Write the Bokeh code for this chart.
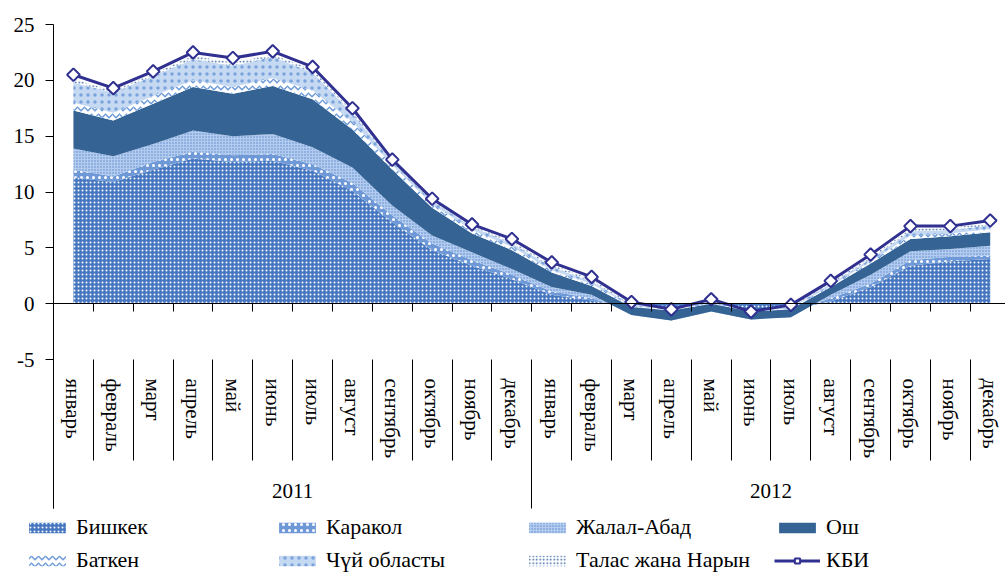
import math
from bokeh.plotting import figure
from bokeh.models import (ColumnDataSource, Range1d, LinearAxis, FixedTicker,
                          Legend, LegendItem)
from bokeh.embed import file_html
from bokeh.resources import INLINE

# ---------------- data ----------------
months = ["январь", "февраль", "март", "апрель", "май", "июнь", "июль",
          "август", "сентябрь", "октябрь", "ноябрь", "декабрь"]
years = ["2011", "2012"]

region_names = ["Бишкек", "Каракол", "Жалал-Абад", "Ош", "Баткен",
                "Чүй областы", "Талас жана Нарын"]
line_name = "КБИ"

bishkek = [11.3, 10.9, 12.0, 13.0, 12.7, 12.8, 11.9, 10.1, 7.3, 4.8, 3.4, 2.2,
           0.8, 0.3, -0.4, -0.6, -0.3, -0.6, -0.5, 0.2, 1.5, 3.4, 3.8, 4.0]
karakol = [0.7, 0.5, 0.7, 0.6, 0.6, 0.6, 0.6, 0.7, 0.6, 0.6, 0.5, 0.4,
           0.3, 0.2, -0.2, -0.3, -0.1, -0.3, -0.2, 0.3, 0.3, 0.5, 0.4, 0.3]
jalal_abad = [1.9, 1.8, 1.6, 1.9, 1.7, 1.8, 1.5, 1.4, 0.9, 0.7, 0.7, 0.5,
              0.4, 0.3, -0.4, -0.6, -0.3, -0.5, -0.5, 0.3, 0.8, 0.8, 0.7, 0.9]
osh = [3.4, 3.2, 3.6, 3.9, 3.8, 4.3, 4.3, 3.4, 3.2, 2.5, 1.7, 1.7,
       1.3, 0.8, 0.7, 0.9, 0.7, 0.7, 0.7, 0.7, 1.0, 1.1, 1.15, 1.2]
batken = [0.7, 0.7, 0.7, 0.6, 0.6, 0.7, 0.8, 0.7, 0.4, 0.3, 0.3, 0.3,
          0.2, 0.2, 0.1, 0.1, 0.1, 0.1, 0.1, 0.1, 0.2, 0.3, 0.25, 0.3]
chui = [1.8, 1.8, 1.8, 1.9, 1.9, 1.9, 1.6, 0.7, 0.3, 0.3, 0.3, 0.3,
        0.3, 0.2, 0.1, 0.1, 0.1, 0.0, 0.1, 0.2, 0.2, 0.4, 0.3, 0.3]
talas_naryn = [0.3, 0.2, 0.2, 0.3, 0.3, 0.2, 0.3, 0.2, 0.1, 0.1, 0.1, 0.2,
               0.2, 0.2, 0.1, 0.0, 0.1, 0.0, 0.1, 0.1, 0.2, 0.2, 0.2, 0.2]
kbi = [20.5, 19.3, 20.8, 22.5, 22.0, 22.6, 21.2, 17.5, 12.9, 9.4, 7.1, 5.8,
       3.7, 2.4, 0.15, -0.5, 0.4, -0.7, -0.1, 2.05, 4.4, 6.95, 6.95, 7.45]

y_ticks = [-5, 0, 5, 10, 15, 20, 25]

# ---------------- layout ----------------
W, H = 1005, 573
PX_X = 39.86          # px per category
PX_Y = 11.17          # px per unit
LEFT_AXIS = 53        # x of category -0.5
TOP = 24              # y of value 25
BOTTOM = 508          # y of bottom of category label box

x_start = -0.5 - LEFT_AXIS / PX_X
x_end = x_start + W / PX_X
y_end = 25 + TOP / PX_Y
y_start = y_end - H / PX_Y
y_box_bottom = 25 - (BOTTOM - TOP) / PX_Y

FONT = "Liberation Serif"
FS = "21px"
FS_LEG = "22px"
NAVY = "#2f308f"

n = len(kbi)
x = list(range(n))
keys = ["bishkek", "karakol", "jalal", "osh", "batken", "chui", "talas"]
src = ColumnDataSource(dict(x=x, bishkek=bishkek, karakol=karakol, jalal=jalal_abad,
                            osh=osh, batken=batken, chui=chui, talas=talas_naryn,
                            kbi=kbi))

p = figure(width=W, height=H, x_range=Range1d(x_start, x_end),
           y_range=Range1d(y_start, y_end), x_axis_type=None, y_axis_type=None,
           toolbar_location=None, output_backend="svg", min_border=0,
           outline_line_color=None, background_fill_color="white",
           border_fill_color="white")

areas = p.varea_stack(
    stackers=keys, x="x", source=src,
    fill_color=["#4677c0", "#6f99d6", "#b2cbee", "#346394", "#ffffff", "#c6d9f2", "#ffffff"],
    hatch_pattern=[".", ".", ".", " ", "v", ".", "."],
    hatch_color=["#ffffff", "#ffffff", "#5a8ad0", "#346394", "#6c9ad8", "#7aa3dc", "#2f5f9f"],
    hatch_scale=[4, 6, 3, 4, 7, 7, 3.5],
    hatch_weight=[1, 2, 1, 1, 1.5, 1, 2],
)

kbi_line = p.line("x", "kbi", source=src, line_color=NAVY, line_width=3)
kbi_pts = p.scatter("x", "kbi", source=src, marker="square", angle=math.pi / 4,
                    size=9, fill_color="white", line_color=NAVY, line_width=2)

# ---------------- axes ----------------
def hidden_labels():
    return dict(major_label_text_font_size="0px", major_label_text_alpha=0)

yax = LinearAxis(fixed_location=-0.5, bounds=(y_box_bottom, 25),
                 ticker=FixedTicker(ticks=y_ticks, minor_ticks=[]),
                 major_label_overrides={t: str(t) for t in y_ticks},
                 major_tick_in=0, major_tick_out=8, minor_tick_in=0, minor_tick_out=0,
                 major_label_standoff=11, major_label_text_font=FONT,
                 major_label_text_font_size=FS, major_label_text_color="black",
                 axis_line_color="black", major_tick_line_color="black")
p.add_layout(yax, "left")

boundaries = [i + 0.5 for i in range(n)]
zax = LinearAxis(fixed_location=0, bounds=(-0.5, n),
                 ticker=FixedTicker(ticks=boundaries, minor_ticks=[]),
                 major_tick_in=0, major_tick_out=8, minor_tick_in=0, minor_tick_out=0,
                 axis_line_color="black", major_tick_line_color="black",
                 **hidden_labels())
p.add_layout(zax, "below")

# month separators
month_seps = [i + 0.5 for i in range(n - 1) if (i + 1) % 12 != 0]
msep = LinearAxis(fixed_location=-5,
                  ticker=FixedTicker(ticks=month_seps, minor_ticks=[]),
                  axis_line_color=None, major_tick_in=0, major_tick_out=101,
                  minor_tick_in=0, minor_tick_out=0, major_tick_line_color="black",
                  **hidden_labels())
p.add_layout(msep, "below")

# year separators
year_seps = [12 * k - 0.5 for k in range(len(years) + 1)]
ysep = LinearAxis(fixed_location=-5,
                  ticker=FixedTicker(ticks=year_seps, minor_ticks=[]),
                  axis_line_color=None, major_tick_in=0, major_tick_out=149,
                  minor_tick_in=0, minor_tick_out=0, major_tick_line_color="black",
                  **hidden_labels())
p.add_layout(ysep, "below")

# month labels
month_labels = months * len(years)
mlab = LinearAxis(fixed_location=-5,
                  ticker=FixedTicker(ticks=x, minor_ticks=[]),
                  axis_line_color=None, major_tick_in=0, major_tick_out=0,
                  minor_tick_in=0, minor_tick_out=0,
                  major_label_overrides={i: lab for i, lab in enumerate(month_labels)},
                  major_label_orientation="vertical", major_label_standoff=19,
                  major_label_text_font=FONT, major_label_text_font_size=FS,
                  major_label_text_color="black")
p.add_layout(mlab, "below")

# year labels
year_centers = [12 * k + 5.5 for k in range(len(years))]
ylab = LinearAxis(fixed_location=-5,
                  ticker=FixedTicker(ticks=year_centers, minor_ticks=[]),
                  axis_line_color=None, major_tick_in=0, major_tick_out=0,
                  minor_tick_in=0, minor_tick_out=0,
                  major_label_overrides={c: y for c, y in zip(year_centers, years)},
                  major_label_standoff=124,
                  major_label_text_font=FONT, major_label_text_font_size=FS,
                  major_label_text_color="black")
p.add_layout(ylab, "below")

# ---------------- legend ----------------
def make_legend(items, loc):
    return Legend(items=items, orientation="horizontal", location=loc,
                  glyph_width=46, glyph_height=13, label_standoff=6,
                  label_width=198, label_height=13, spacing=0, padding=0,
                  margin=0, border_line_color=None, background_fill_alpha=0,
                  label_text_font=FONT, label_text_font_size=FS_LEG,
                  label_text_color="black")

row1 = [LegendItem(label=region_names[i], renderers=[areas[i]]) for i in range(4)]
row2 = [LegendItem(label=region_names[i], renderers=[areas[i]]) for i in range(4, 7)]
row2.append(LegendItem(label=line_name, renderers=[kbi_line, kbi_pts]))
p.add_layout(make_legend(row1, (24, 33)))
p.add_layout(make_legend(row2, (24, 0)))

open("out.html", "w").write(file_html(p, INLINE))
